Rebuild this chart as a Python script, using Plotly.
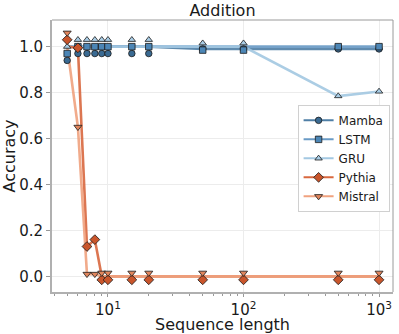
import plotly.graph_objects as go

# ---- data ----
seq_len = [5, 6, 7, 8, 9, 10, 15, 20, 50, 100, 500, 1000]
series_names = ["Mamba", "LSTM", "GRU", "Pythia", "Mistral"]
mamba = [1.0, 1.0, 1.0, 1.0, 1.0, 1.0, 1.0, 1.0, 0.99, 0.99, 0.99, 0.99]
lstm = [1.0, 1.0, 1.0, 1.0, 1.0, 1.0, 1.0, 1.0, 1.0, 1.0, 1.0, 1.0]
gru = [1.0, 1.0, 1.0, 1.0, 1.0, 1.0, 1.0, 1.0, 1.0, 1.0, 0.785, 0.805]
pythia = [1.0, 0.995, 0.13, 0.16, 0.0, 0.0, 0.0, 0.0, 0.0, 0.0, 0.0, 0.0]
mistral = [1.0, 0.65, 0.01, 0.01, 0.0, 0.0, 0.0, 0.0, 0.0, 0.0, 0.0, 0.0]
x_tick_vals = [10, 100, 1000]
x_tick_text = ["10<sup>1</sup>", "10<sup>2</sup>", "10<sup>3</sup>"]
y_tick_vals = [0.0, 0.2, 0.4, 0.6, 0.8, 1.0]

values = [mamba, lstm, gru, pythia, mistral]

# ---- styles ----
line_colors = ["#4f7fa6", "#6a9bc6", "#a3c8e2", "#d9683f", "#f0a27f"]
marker_colors = ["#3a6a92", "#4c86b6", "#a9cde6", "#c9552b", "#e0855c"]
symbols = ["circle", "square", "triangle-up", "diamond", "triangle-down"]
msizes = [6.5, 6.5, 6.5, 7.5, 7]
JIT = 0.03

# jitter overlapping markers vertically (markers only)
offsets = [[0.0] * len(seq_len) for _ in values]
for i in range(len(seq_len)):
    groups = {}
    for s, v in enumerate(values):
        groups.setdefault(round(v[i], 6), []).append(s)
    for members in groups.values():
        n = len(members)
        for r, s in enumerate(members):
            offsets[s][i] = (r - (n - 1) / 2) * JIT

fig = go.Figure()
for s, name in enumerate(series_names):
    fig.add_trace(go.Scatter(
        x=seq_len, y=values[s], mode="lines",
        line=dict(color=line_colors[s], width=2.6), opacity=0.9,
        showlegend=False, hoverinfo="skip"))
for s, name in enumerate(series_names):
    fig.add_trace(go.Scatter(
        x=seq_len, y=[v + o for v, o in zip(values[s], offsets[s])], mode="markers",
        marker=dict(symbol=symbols[s], size=msizes[s], color=marker_colors[s],
                    line=dict(color="#1a1a1a", width=0.8)),
        showlegend=False))
for s, name in enumerate(series_names):
    fig.add_trace(go.Scatter(
        x=[None], y=[None], mode="lines+markers", name=name,
        line=dict(color=line_colors[s], width=2),
        marker=dict(symbol=symbols[s], size=msizes[s], color=marker_colors[s],
                    line=dict(color="#1a1a1a", width=0.8))))

fig.update_layout(
    width=399, height=334,
    margin=dict(l=52, r=6, t=20, b=42, autoexpand=False),
    paper_bgcolor="white", plot_bgcolor="white",
    font=dict(family="DejaVu Sans", color="#1a1a1a", size=15),
    title=dict(text="Addition", x=0.5, xref="paper", xanchor="center",
               y=0.968, yref="container", yanchor="middle",
               font=dict(size=16), automargin=False),
    legend=dict(x=0.99, y=0.688, xanchor="right", yanchor="top",
                bgcolor="white", bordercolor="#d0d0d0", borderwidth=1,
                font=dict(size=12), tracegroupgap=0),
    shapes=[
        dict(type="line", xref="paper", yref="paper", x0=0, x1=1, y0=1, y1=1,
             line=dict(color="#9a9a9a", width=1)),
        dict(type="line", xref="paper", yref="paper", x0=1, x1=1, y0=0, y1=1,
             line=dict(color="#9a9a9a", width=1)),
    ],
)
fig.update_xaxes(
    type="log", range=[0.587, 3.103], automargin=False,
    tickvals=x_tick_vals, ticktext=x_tick_text,
    ticks="outside", ticklen=3, tickcolor="#999", tickfont=dict(size=15),
    showgrid=True, gridcolor="#ececec", gridwidth=1,
    showline=True, linecolor="#b0b0b0", linewidth=2, zeroline=False,
    minor=dict(tickvals=[4, 5, 6, 7, 8, 9, 20, 30, 40, 50, 60, 70, 80, 90,
                         200, 300, 400, 500, 600, 700, 800, 900],
               ticks="outside", ticklen=2, tickcolor="#999", showgrid=False),
    title=dict(text="Sequence length", font=dict(size=16), standoff=0),
)
fig.update_yaxes(
    range=[-0.068, 1.116], automargin=False,
    tickvals=y_tick_vals, tickformat=".1f",
    ticks="outside", ticklen=4, tickcolor="#999", tickfont=dict(size=15),
    showgrid=True, gridcolor="#ececec", gridwidth=1,
    showline=True, linecolor="#b0b0b0", linewidth=2, zeroline=False,
    title=dict(text="Accuracy", font=dict(size=16), standoff=2),
)

fig.write_html("out.html",
               config={"displayModeBar": False},
               post_script="document.body.style.margin='0px';"
                           "document.body.style.overflow='hidden';")
